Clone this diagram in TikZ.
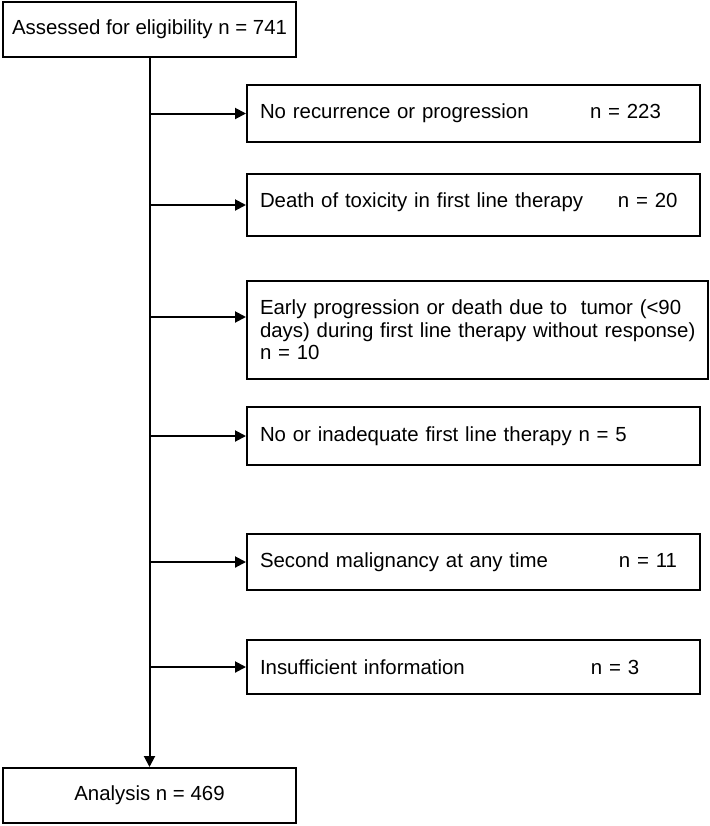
\documentclass[tikz,border=0pt]{standalone}
\usepackage{fontspec}
\setmainfont{Liberation Sans}
\usepackage{tikz}
\usetikzlibrary{positioning,calc,arrows.meta}
\tikzstyle{flow}=[
  >={Triangle[length=5.5pt,width=5.5pt]}, x=0.5pt, y=-0.5pt,
  font=\fontsize{10.2pt}{11.35pt}\selectfont
]
\tikzstyle{mainbox}=[
  draw, line width=1pt, minimum width=146.5pt, minimum height=27.5pt, inner sep=0pt
]
\tikzstyle{exclbox}=[
  draw, line width=1pt, anchor=north west, align=left,
  inner xsep=6.5pt, inner ysep=0pt, text width=213.5pt
]
\tikzstyle{exclarrow}=[
  ->, line width=1pt
]

\begin{document}
\begin{tikzpicture}[flow]
    \useasboundingbox (0,0) rectangle (709,826);
    \node (assessed) at (149.5,29.5) [mainbox] {Assessed for eligibility n = 741};
    \node (norec) at (246,84) [exclbox,minimum height=28.5pt]
      {\makebox[165pt][l]{No recurrence or progression}n = 223};
    \node (toxic) at (246,173) [exclbox,minimum height=31pt]
      {\raisebox{5pt}{\makebox[179pt][l]{Death of toxicity in first line therapy}n = 20}};
    \node (early) at (246,280) [exclbox,minimum height=49pt,text width=217.5pt]
      {\mbox{Early progression or death due to\ \ tumor (<90}\\
       \mbox{days) during first line therapy without response)}\\
       n = 10};
    \node (inadeq) at (246,406) [exclbox,minimum height=29pt]
      {No or inadequate first line therapy n = 5};
    \node (second) at (246,533) [exclbox,minimum height=28pt]
      {\makebox[179.5pt][l]{Second malignancy at any time}n = 11};
    \node (insuff) at (246,639) [exclbox,minimum height=27pt]
      {\makebox[165.5pt][l]{Insufficient information}n = 3};
    \node (analysis) at (149.5,795.5) [mainbox] {Analysis n = 469};
    \coordinate (earlyin) at ($(early.north west)+(0,37)$);
    \draw [exclarrow] (assessed) -- (analysis);
    \foreach \b in {norec,toxic,inadeq,second,insuff}
      \draw [exclarrow] (assessed.south |- \b.west) -- (\b.west);
    \draw [exclarrow] (assessed.south |- earlyin) -- (earlyin);
\end{tikzpicture}
\end{document}
